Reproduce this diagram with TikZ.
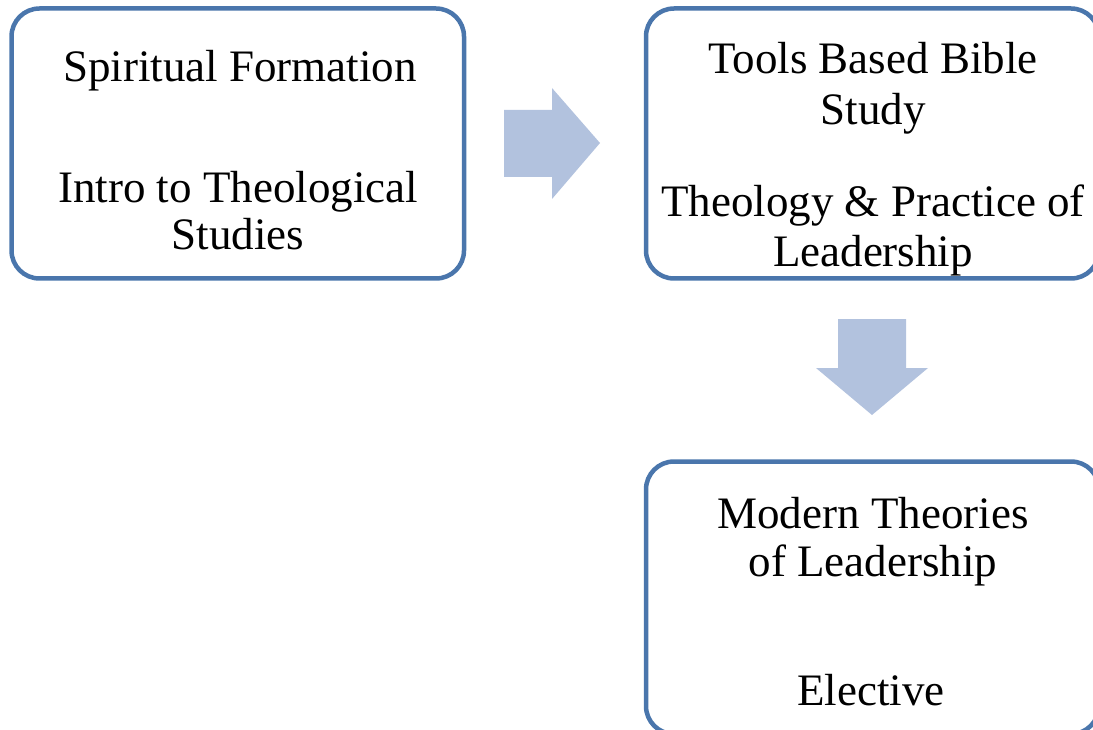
\documentclass[tikz,border=0pt]{standalone}
\usepackage{fontspec}
\setmainfont{Liberation Serif}
\definecolor{boxblue}{RGB}{74,118,172}
\definecolor{arrowfill}{RGB}{178,194,222}
\begin{document}
\begin{tikzpicture}[x=1pt,y=-1pt,
  course/.style={draw=boxblue,line width=4.5pt,rounded corners=28pt,fill=white},
  label/.style={anchor=base,inner sep=0pt,font=\fontsize{45}{48}\selectfont},
  blockarrow/.style={fill=arrowfill,draw=none}]
\useasboundingbox (0,0) rectangle (1093,730);
\clip (0,0) rectangle (1093,730);
% boxes
\draw[course] (11.5,8.5) rectangle (464,278.5);
\coordinate (b1) at (237.5,143);
\draw[course] (646,8.5) rectangle (1099,278.5);
\coordinate (b2) at (873,143);
\draw[course] (646,461.5) rectangle (1099,734);
\coordinate (b3) at (873,600);
% texts
\node[label] (t1) at (240,82) {Spiritual Formation};
\node[label] (t2) at (238,203) {Intro to Theological};
\node[label] (t3) at (238,250) {Studies};
\node[label] (t4) at (873,74) {Tools Based Bible};
\node[label] (t5) at (873,125) {Study};
\node[label] (t6) at (873,217) {Theology \& Practice of};
\node[label] (t7) at (873,267) {Leadership};
\node[label] (t8) at (873,528) {Modern Theories};
\node[label] (t9) at (873,576) {of Leadership};
\node[label] (t10) at (871,705) {Elective};
% block arrows
\fill[blockarrow] (504,110) -- (552,110) -- (552,88) -- (600,143) -- (552,199) -- (552,177) -- (504,177) -- cycle;
\fill[blockarrow] (838,319) -- (906,319) -- (906,368) -- (928,368) -- (872,415) -- (816,368) -- (838,368) -- cycle;
\end{tikzpicture}
\end{document}
